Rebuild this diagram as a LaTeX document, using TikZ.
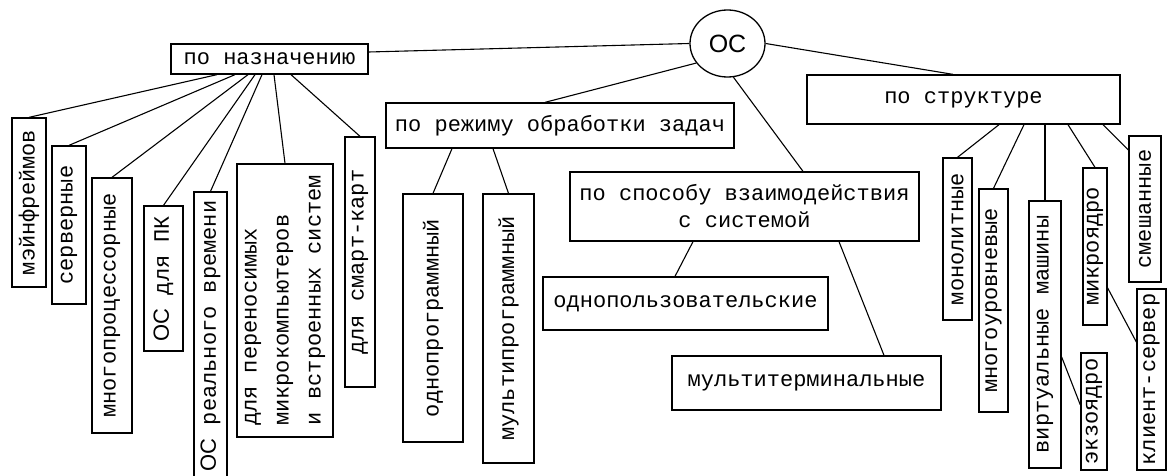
\documentclass[tikz,border=0pt]{standalone}
\usepackage{fontspec}
\newfontfamily\cour{Liberation Mono}
\newfontfamily\arl{Liberation Sans}
\usetikzlibrary{shapes.geometric,calc}
\begin{document}
\begin{tikzpicture}[x=1pt,y=-1pt,
  box/.style={draw,line width=1.3pt,inner sep=0pt,align=center,
    font=\cour\fontsize{22}{27}\selectfont},
  vbox/.style={box,rotate=90},
  link/.style={line width=1.1pt}]
\useasboundingbox (0,0) rectangle (1173,476);
\clip (0,0) rectangle (1173,476);

% root
\node[draw,ellipse,line width=1.3pt,inner sep=0pt,minimum width=75,minimum height=67,
  font=\arl\fontsize{25}{30}\selectfont] (os) at (727.5,43.5) {ОС};

% first level
\node[box,minimum width=197,minimum height=30] (nazn) at (269.5,59) {по назначению};
\node[box,minimum width=348,minimum height=45] (rezh) at (560,125.5) {по режиму обработки задач};
\node[box,minimum width=349,minimum height=69] (sposob) at (744.5,206.5) {по способу взаимодействия\\с системой};
\node[box,minimum width=313,minimum height=49] (strukt) at (963.5,99.5) {по структуре};

% by purpose
\node[vbox,minimum width=169,minimum height=34] (v1) at (29,202.5) {мэйнфреймов};
\node[vbox,minimum width=158,minimum height=34] (v2) at (69,225) {серверные};
\node[vbox,minimum width=255,minimum height=40] (v3) at (112,305.5) {многопроцессорные};
\node[vbox,minimum width=145,minimum height=39] (v4) at (163.5,278.5) {{\arl ОС} для ПК};
\node[vbox,minimum width=288,minimum height=33] (v5) at (210.5,336) {{\arl ОС} реального времени};
\node[vbox,minimum width=273,minimum height=96,align=left,
  font=\cour\fontsize{22}{32}\selectfont] (v6) at (285,300.5)
  {для переносимых\\микрокомпьютеров\\и встроенных систем};
\node[vbox,minimum width=250,minimum height=30] (v7) at (360,262) {для смарт-карт};

% by processing mode
\node[vbox,minimum width=248,minimum height=60] (p1) at (433,318) {однопрограммный};
\node[vbox,minimum width=269,minimum height=51] (p2) at (508.5,328.5) {мультипрограммный};

% by interaction
\node[box,minimum width=285,minimum height=53] (odnop) at (685.5,303.5) {однопользовательские};
\node[box,minimum width=269,minimum height=54] (multt) at (806.5,383) {мультитерминальные};

% by structure
\node[vbox,minimum width=162,minimum height=29] (s1) at (957.5,239) {монолитные};
\node[vbox,minimum width=223,minimum height=29] (s2) at (993.5,300.5) {многоуровневые};
\node[vbox,minimum width=267,minimum height=32] (s3) at (1045,334.5) {виртуальные машины};
\node[vbox,minimum width=157,minimum height=24] (s4) at (1095,246.5) {микроядро};
\node[vbox,minimum width=146,minimum height=32] (s5) at (1145,209) {смешанные};
\node[vbox,minimum width=117,minimum height=26] (s6) at (1094,411.5) {экзоядро};
\node[vbox,minimum width=181,minimum height=29] (s7) at (1151.5,379.5) {клиент-сервер};

% connectors from the root
\draw[link] ([yshift=7pt]nazn.east) -- (os.west);
\draw[link] (os.212) -- ([xshift=-15pt]rezh.north);
\draw[link] (os.280) -- ([xshift=58.5pt]sposob.north);
\draw[link] (os.east) -- ([xshift=-10.5pt]strukt.north);

% purpose branches
\draw[link] ([xshift=-52.5pt]nazn.south) -- (v1.east);
\draw[link] ([xshift=-34.5pt]nazn.south) -- (v2.east);
\draw[link] ([xshift=-21.5pt]nazn.south) -- (v3.east);
\draw[link] ([xshift=-14.5pt]nazn.south) -- (v4.east);
\draw[link] ([xshift=-7.5pt]nazn.south) -- (v5.east);
\draw[link] ([xshift=4.5pt]nazn.south) -- (v6.east);
\draw[link] ([xshift=21.5pt]nazn.south) -- (v7.east);

% processing mode branches
\draw[link] ([xshift=-108pt]rezh.south) -- (p1.east);
\draw[link] ([xshift=-67pt]rezh.south) -- (p2.east);

% interaction branches
\draw[link] ([xshift=-51.5pt]sposob.south) -- ([xshift=-10.5pt]odnop.north);
\draw[link] ([xshift=94.5pt]sposob.south) -- ([xshift=77.5pt]multt.north);

% structure branches
\draw[link] ([xshift=35.5pt]strukt.south) -- (s1.east);
\draw[link] ([xshift=60.5pt]strukt.south) -- (s2.east);
\draw[link] (s3.east |- strukt.south) -- (s3.east);
\draw[link] ([xshift=104.5pt]strukt.south) -- (s4.east);
\draw[link] ([xshift=139.5pt]strukt.south) -- ([yshift=59pt]s5.north);
\draw[link] ([yshift=-22.5pt]s3.south) -- ([yshift=6.5pt]s6.north);
\draw[link] ([yshift=-41.5pt]s4.south) -- ([yshift=37.5pt]s7.north);
\end{tikzpicture}
\end{document}
